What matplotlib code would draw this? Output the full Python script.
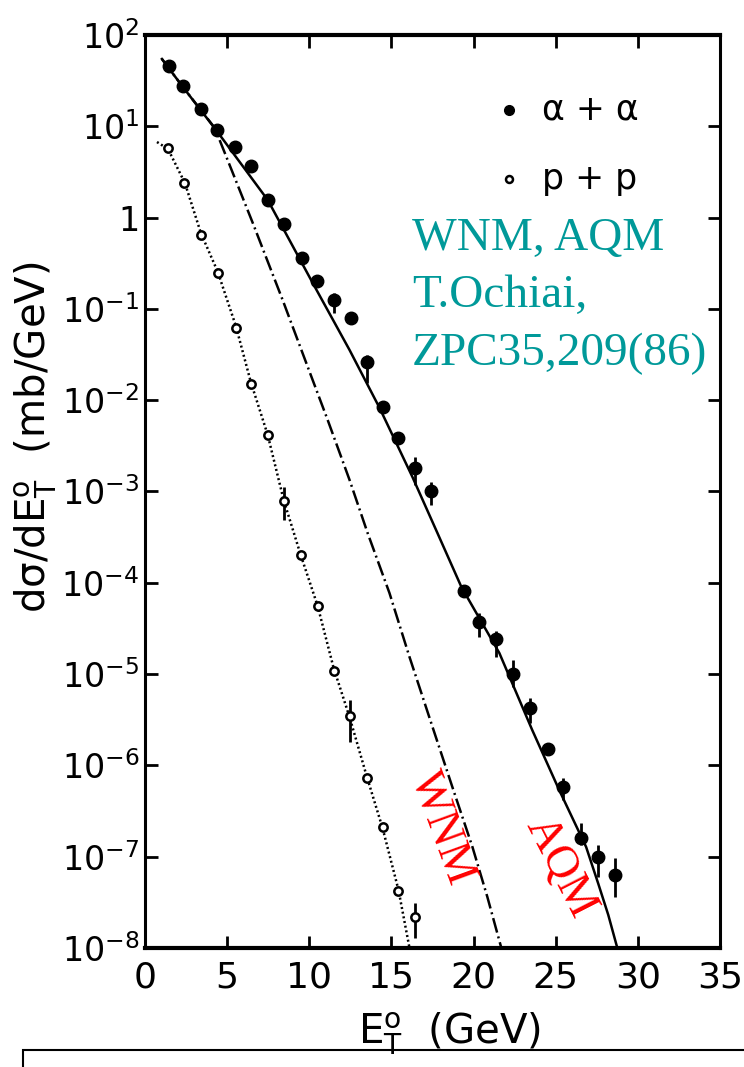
import matplotlib
matplotlib.use('Agg')
import matplotlib.pyplot as plt
from matplotlib import font_manager
from matplotlib.patches import Rectangle

# alpha + alpha data (filled points), E_T in GeV, dsigma/dE_T in mb/GeV
aa_et = [1.46, 2.31, 3.40, 4.37, 5.47, 6.44, 7.47, 8.44, 9.54, 10.45, 11.48, 12.51, 13.49, 14.46,
         15.37, 16.46, 17.38, 19.44, 20.35, 21.39, 22.42, 23.45, 24.54, 25.46, 26.55, 27.58, 28.61]
aa_val = [45.7, 27.6, 15.5, 9.1, 5.9, 3.7, 1.56, 0.85, 0.36, 0.20, 0.125, 0.079, 0.026, 0.0084,
          0.0039, 0.0018, 0.0010, 8.1e-5, 3.7e-5, 2.4e-5, 1.0e-5, 4.3e-6, 1.5e-6, 5.8e-7, 1.6e-7, 9.9e-8, 6.3e-8]
# error bar ends
aa_bar_et = [11.48, 13.49, 16.46, 17.38, 20.35, 21.39, 22.42, 23.45, 25.46, 26.55, 27.58, 28.61]
aa_bar_hi = [0.149, 0.031, 0.0024, 0.00127, 4.7e-5, 3.0e-5, 1.43e-5, 5.5e-6, 7.3e-7, 2.34e-7, 1.34e-7, 9.7e-8]
aa_bar_lo = [0.090, 0.0154, 0.00118, 7.1e-4, 2.55e-5, 1.54e-5, 7.2e-6, 2.9e-6, 4.2e-7, 1.34e-7, 6.0e-8, 3.6e-8]

# p + p data (open points)
pp_et = [1.40, 2.37, 3.40, 4.43, 5.53, 6.44, 7.47, 8.44, 9.48, 10.51, 11.48, 12.45, 13.49, 14.46, 15.43, 16.46]
pp_val = [5.8, 2.4, 0.64, 0.25, 0.062, 0.015, 0.0042, 7.9e-4, 2.0e-4, 5.6e-5, 1.08e-5, 3.5e-6,
          7.3e-7, 2.1e-7, 4.2e-8, 2.2e-8]
pp_bar_et = [8.44, 12.45, 16.46]
pp_bar_hi = [1.12e-3, 5.2e-6, 3.1e-8]
pp_bar_lo = [4.9e-4, 1.8e-6, 1.29e-8]

# model curves
aqm_et = [1.03, 2.31, 4.37, 7.47, 10.21, 12.45, 14.28, 16.28, 17.80, 19.26, 21.57, 23.57, 25.21, 26.85,
          27.6, 28.2, 28.75]
aqm_val = [54.6, 26.9, 8.89, 1.56, 0.192, 0.0355, 0.00822, 0.00144, 3.51e-4, 8.99e-5, 1.70e-5, 2.44e-6,
           5.38e-7, 1.28e-7, 5.0e-8, 2.3e-8, 1.0e-8]
wnm_et = [1.03, 2.31, 4.25, 5.59, 6.56, 8.38, 10.02, 11.12, 12.45, 13.55, 14.88, 16.10, 17.50, 18.71,
          19.93, 20.84, 21.69]
wnm_val = [54.6, 26.9, 9.57, 2.39, 0.873, 0.125, 0.0204, 0.00607, 0.00134, 3.51e-4, 7.73e-5, 1.54e-5,
           2.64e-6, 5.79e-7, 1.28e-7, 3.62e-8, 1.0e-8]
ppfit_et = [0.73, 1.40, 2.43, 3.40, 4.43, 5.53, 6.44, 7.47, 8.44, 9.48, 10.51, 11.48, 12.45, 13.49,
            14.46, 15.43, 16.10]
ppfit_val = [6.73, 5.64, 2.39, 0.678, 0.254, 0.065, 0.0158, 0.00416, 8.07e-4, 2.01e-4, 5.57e-5, 1.17e-5,
             3.39e-6, 7.66e-7, 2.06e-7, 4.32e-8, 1.0e-8]

x_ticks = [0, 5, 10, 15, 20, 25, 30, 35]
y_ticks = [1e-8, 1e-7, 1e-6, 1e-5, 1e-4, 1e-3, 1e-2, 1e-1, 1, 10, 100]
y_ticklabels = ['$10^{-8}$', '$10^{-7}$', '$10^{-6}$', '$10^{-5}$', '$10^{-4}$', '$10^{-3}$',
                '$10^{-2}$', '$10^{-1}$', '1', '$10^{1}$', '$10^{2}$']

# narrow font for tick labels if there is one
names = {f.name for f in font_manager.fontManager.ttflist}
tick_font = 'Liberation Sans Narrow' if 'Liberation Sans Narrow' in names else 'DejaVu Sans'
plt.rcParams['mathtext.fontset'] = 'custom'
plt.rcParams['mathtext.rm'] = tick_font
plt.rcParams['mathtext.it'] = tick_font
plt.rcParams['mathtext.default'] = 'rm'

fig = plt.figure(figsize=(7.44, 10.67), dpi=100)
ax = fig.add_axes([145 / 744, 1 - 948 / 1067, 575 / 744, 913 / 1067])

# curves
ax.plot(aqm_et, aqm_val, color='black', lw=1.8, ls='-')
ax.plot(wnm_et, wnm_val, color='black', lw=1.8, ls=(0, (6, 1.6, 0.8, 1.6)))
ax.plot(ppfit_et, ppfit_val, color='black', lw=1.8, ls=(0, (0.8, 1.1)))

# error bars
ax.vlines(aa_bar_et, aa_bar_lo, aa_bar_hi, color='black', lw=2)
ax.vlines(pp_bar_et, pp_bar_lo, pp_bar_hi, color='black', lw=2)

# data points
ax.plot(aa_et, aa_val, 'o', color='black', ms=9, zorder=5)
ax.plot(pp_et, pp_val, 'o', mfc='white', mec='black', mew=1.8, ms=6, zorder=5)

ax.set_yscale('log')
ax.set_xlim(0, 35)
ax.set_ylim(1e-8, 1e2)
ax.set_xticks(x_ticks)
ax.set_xticklabels([str(t) for t in x_ticks], fontsize=26, family=tick_font)
ax.set_yticks(y_ticks)
ax.set_yticklabels(y_ticklabels, fontsize=24)
ax.yaxis.set_minor_locator(matplotlib.ticker.NullLocator())
ax.tick_params(which='major', direction='in', length=9, width=2, top=True, right=True)
ax.tick_params(axis='x', pad=9)
ax.tick_params(axis='y', pad=4)
for side, w in [('left', 2.2), ('bottom', 3), ('top', 3), ('right', 2.2)]:
    ax.spines[side].set_linewidth(w)

# axis titles
fig.text(36 / 744, 1 - 437 / 1067, 'dσ/dE$_{T}^{o}$  (mb/GeV)', rotation=90, fontsize=29,
         family='DejaVu Sans', ha='center', va='center')
fig.text(450 / 744, 1 - 1034 / 1067, 'E$_{T}^{o}$  (GeV)', fontsize=29,
         family='DejaVu Sans', ha='center', va='center')

# legend
ax.plot([0.633], [0.918], 'o', color='black', ms=7, transform=ax.transAxes)
ax.text(0.690, 0.918, 'α + α', transform=ax.transAxes, fontsize=25, va='center', ha='left')
ax.plot([0.633], [0.842], 'o', mfc='white', mec='black', mew=1.8, ms=5, transform=ax.transAxes)
ax.text(0.690, 0.842, 'p + p', transform=ax.transAxes, fontsize=25, va='center', ha='left')

# annotations
teal = '#009999'
for txt, yb in [('WNM, AQM', 0.7645), ('T.Ochiai,', 0.7021), ('ZPC35,209(86)', 0.6386)]:
    ax.text(0.464, yb, txt, transform=ax.transAxes, fontsize=34, color=teal,
            family='Liberation Serif', va='baseline', ha='left')
ax.text(0.5165, 0.1314, 'WNM', transform=ax.transAxes, fontsize=33, color='red',
        family='Liberation Serif', rotation=-70, ha='center', va='center', rotation_mode='anchor')
ax.text(0.7217, 0.0887, 'AQM', transform=ax.transAxes, fontsize=33, color='red',
        family='Liberation Serif', rotation=-63, ha='center', va='center', rotation_mode='anchor')

# frame at the bottom of the page
fig.patches.append(Rectangle((23 / 744, -0.05), 1.0, 0.05 + 17 / 1067, transform=fig.transFigure,
                             fill=False, edgecolor='black', lw=1.5))

fig.savefig('out.png', dpi=100)
